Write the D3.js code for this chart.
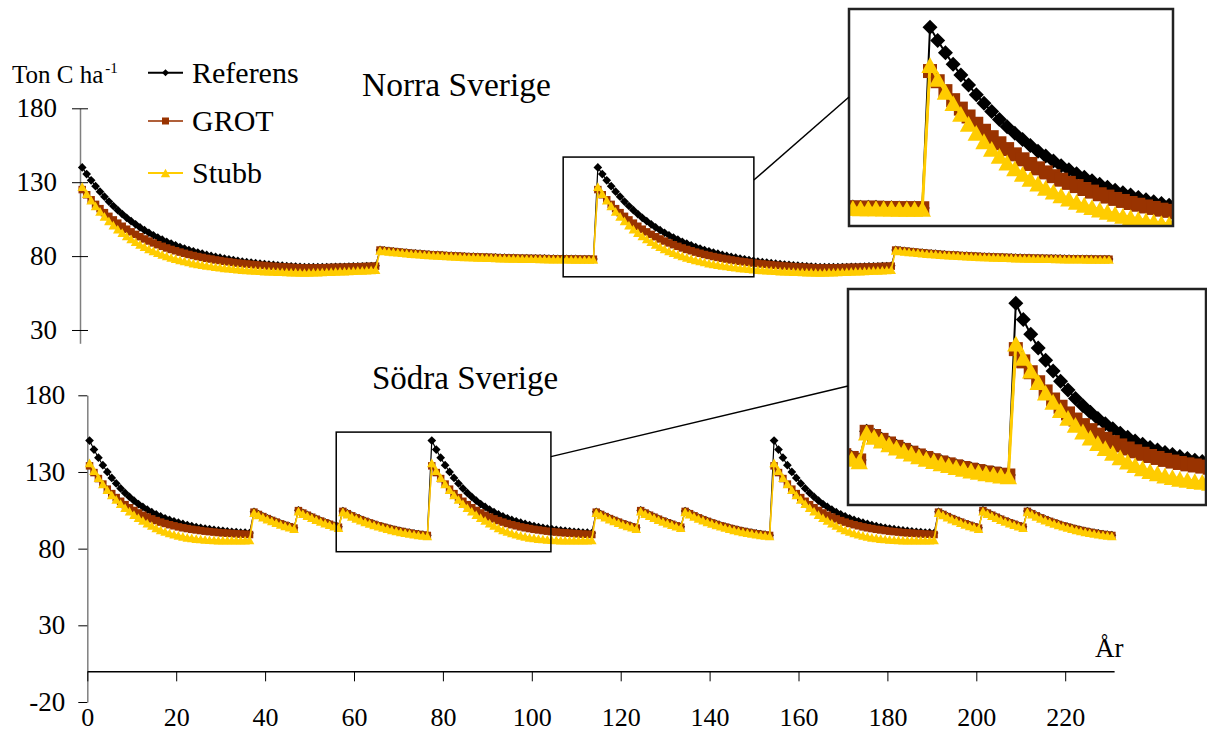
<!DOCTYPE html>
<html>
<head>
<meta charset="utf-8">
<script src="https://cdn.jsdelivr.net/npm/d3@7"></script>
<style>
body{margin:0;background:#fff}
text{font-family:"Liberation Serif","Times New Roman","DejaVu Serif",serif;fill:#000}
</style>
</head>
<body>
<script>
// one rotation (years since final felling) per series
var norraRefRot = [140.0,135.5,131.3,127.3,123.6,120.2,116.9,113.9,111.1,108.4,105.9,103.6,101.5,99.4,97.5,95.8,94.1,92.5,91.1,89.7,
  88.5,87.3,86.1,85.1,84.1,83.2,82.4,81.6,80.8,80.1,79.5,78.9,78.3,77.8,77.3,76.8,76.3,75.9,75.6,75.2,
  74.9,74.6,74.3,74.0,73.7,73.5,73.3,73.1,72.9,72.7,72.5,72.5,72.5,72.5,72.5,72.6,72.6,72.7,72.7,72.8,
  72.9,73.0,73.0,73.1,73.2,73.3,73.4,
  84.2,83.8,83.5,83.2,82.9,82.6,82.3,82.0,81.8,81.6,81.3,81.1,80.9,80.8,80.6,80.4,80.3,80.1,80.0,79.8,
  79.7,79.6,79.5,79.4,79.3,79.2,79.1,79.0,78.9,78.8,78.8,78.7,78.6,78.6,78.5,78.5,78.4,78.4,78.3,78.3,
  78.2,78.2,78.2,78.1,78.1,78.0,78.0,78.0,78.0];
var norraGrotRot = [125.0,121.5,118.1,115.0,112.1,109.4,106.9,104.5,102.3,100.2,98.2,96.4,94.7,93.1,91.6,90.2,88.9,87.7,86.6,85.5,
  84.5,83.6,82.7,81.9,81.1,80.4,79.7,79.1,78.5,78.0,77.4,77.0,76.5,76.1,75.7,75.3,75.0,74.7,74.4,74.1,
  73.8,73.6,73.3,73.1,72.9,72.7,72.6,72.4,72.2,72.1,72.0,72.0,72.0,72.1,72.1,72.2,72.3,72.4,72.4,72.5,
  72.6,72.7,72.8,72.9,73.0,73.1,73.2,
  84.1,83.7,83.4,83.1,82.8,82.5,82.2,81.9,81.7,81.5,81.2,81.0,80.8,80.7,80.5,80.3,80.2,80.0,79.9,79.7,
  79.6,79.5,79.4,79.3,79.2,79.1,79.0,78.9,78.8,78.7,78.7,78.6,78.5,78.5,78.4,78.4,78.3,78.3,78.2,78.2,
  78.1,78.1,78.1,78.0,78.0,77.9,77.9,77.9,77.9];
var norraStubbRot = [127.0,122.3,117.9,114.0,110.3,106.9,103.8,100.9,98.3,95.9,93.6,91.6,89.7,88.0,86.4,84.9,83.6,82.3,81.2,80.1,
  79.1,78.3,77.4,76.7,76.0,75.3,74.8,74.2,73.7,73.3,72.8,72.5,72.1,71.8,71.5,71.2,70.9,70.7,70.5,70.3,
  70.1,69.9,69.8,69.6,69.5,69.4,69.3,69.2,69.1,69.0,68.9,69.0,69.1,69.2,69.3,69.4,69.5,69.6,69.8,69.9,
  70.0,70.1,70.3,70.4,70.5,70.7,70.8,
  83.9,83.5,83.2,82.9,82.6,82.3,82.0,81.7,81.5,81.3,81.0,80.8,80.6,80.5,80.3,80.1,80.0,79.8,79.7,79.5,
  79.4,79.3,79.2,79.1,79.0,78.9,78.8,78.7,78.6,78.5,78.5,78.4,78.3,78.3,78.2,78.2,78.1,78.1,78.0,78.0,
  77.9,77.9,77.9,77.8,77.8,77.7,77.7,77.7,77.7];

var sodraRefRot = [150.5,144.6,139.3,134.4,130.0,126.1,122.5,119.3,116.3,113.7,111.3,109.1,107.2,105.4,103.8,102.3,101.0,99.8,98.7,97.8,
  96.9,96.1,95.4,94.7,94.1,93.6,93.1,92.7,92.3,91.9,91.6,91.3,91.0,90.8,90.5,90.4,90.2,
  104.0,102.5,101.1,99.8,98.6,97.5,96.4,95.4,94.5,93.6,
  105.0,103.4,102.0,100.7,99.4,98.2,97.1,96.1,95.1,94.2,
  104.5,103.0,101.6,100.3,99.1,98.0,97.0,96.0,95.1,94.3,93.5,92.8,92.1,91.5,90.9,90.4,89.9,89.5,89.1,88.8];
var sodraGrotRot = [134.0,129.6,125.7,122.1,118.8,115.9,113.3,110.9,108.7,106.7,104.9,103.3,101.8,100.6,99.4,98.3,97.3,96.4,95.6,94.9,
  94.2,93.6,93.1,92.6,92.2,91.8,91.4,91.1,90.8,90.5,90.3,90.1,89.9,89.7,89.5,89.4,89.2,
  103.8,102.3,100.9,99.6,98.4,97.3,96.2,95.2,94.3,93.4,
  104.8,103.2,101.8,100.5,99.2,98.0,96.9,95.9,94.9,94.0,
  104.3,102.8,101.4,100.1,98.9,97.8,96.8,95.8,94.9,94.1,93.3,92.6,91.9,91.3,90.7,90.2,89.7,89.3,88.9,88.6];
var sodraStubbRot = [136.0,130.9,126.3,122.2,118.4,115.1,112.1,109.3,106.8,104.4,102.2,100.2,98.4,96.7,95.1,93.6,92.3,91.2,90.2,89.4,
  88.6,88.0,87.4,87.0,86.6,86.3,86.0,85.8,85.7,85.6,85.5,85.5,85.5,85.5,85.6,85.6,85.7,
  103.5,102.0,100.6,99.3,98.1,97.0,95.9,94.9,94.0,93.1,
  104.5,102.9,101.5,100.2,98.9,97.7,96.6,95.6,94.6,93.7,
  104.0,102.5,101.1,99.8,98.6,97.5,96.5,95.5,94.6,93.8,93.0,92.3,91.6,91.0,90.4,89.9,89.4,89.0,88.6,88.3];

// two rotations in the north, three in the south
var norraRef = norraRefRot.concat(norraRefRot);
var norraGrot = norraGrotRot.concat(norraGrotRot);
var norraStubb = norraStubbRot.concat(norraStubbRot);
var sodraRef = sodraRefRot.concat(sodraRefRot, sodraRefRot);
var sodraGrot = sodraGrotRot.concat(sodraGrotRot, sodraGrotRot);
var sodraStubb = sodraStubbRot.concat(sodraStubbRot, sodraStubbRot);

var seriesNames = ["Referens", "GROT", "Stubb"];
var xTicks = [0, 20, 40, 60, 80, 100, 120, 140, 160, 180, 200, 220];
var yTicksTop = [30, 80, 130, 180];
var yTicksBottom = [-20, 30, 80, 130, 180];

var markColors = ["#000000", "#993300", "#ffcc00"];
var lineColors = ["#000000", "#b0603a", "#ffcc00"];
var serif = "Liberation Serif, Times New Roman, serif";

var svg = d3.select("body").append("svg").attr("width", 1207).attr("height", 733);

// excel style markers
var symDiamond = {draw: function (c, size) { var r = Math.sqrt(size) / 2; c.moveTo(0, -r); c.lineTo(r, 0); c.lineTo(0, r); c.lineTo(-r, 0); c.closePath(); }};
var symSquare = {draw: function (c, size) { var r = Math.sqrt(size) / 2; c.moveTo(-r, -r); c.lineTo(r, -r); c.lineTo(r, r); c.lineTo(-r, r); c.closePath(); }};
var symTriangle = {draw: function (c, size) { var r = Math.sqrt(size) / 2; c.moveTo(0, -r); c.lineTo(r * 1.1, r); c.lineTo(-r * 1.1, r); c.closePath(); }};
var symTypes = [symDiamond, symSquare, symTriangle];

// category axes: point i sits in the middle of its slot
var xTop = d3.scaleLinear().domain([0, 232]).range([80, 80 + 232 * 4.445]);
var yTop = d3.scaleLinear().domain([21, 180]).range([343.3, 108.3]);
var xBot = d3.scaleLinear().domain([0, 231]).range([87.3, 87.3 + 231 * 4.445]);
var yBot = d3.scaleLinear().domain([-20, 180]).range([702, 395.3]);

var xIn1 = d3.scaleLinear().domain([106, 148]).range([849, 1173]);
var yIn1 = d3.scaleLinear().domain([71.8, 146.3]).range([226, 9]);
var xIn2 = d3.scaleLinear().domain([55, 103]).range([848, 1206]);
var yIn2 = d3.scaleLinear().domain([78, 155.6]).range([505, 289]);

function plotSeries(layer, data, x, y, k, sizes, widths, i0, i1) {
  var idx = d3.range(Math.max(0, i0), Math.min(data.length, i1));
  layer.append("path").datum(idx)
    .attr("fill", "none")
    .attr("stroke", lineColors[k])
    .attr("stroke-width", widths[k])
    .attr("d", d3.line().x(function (i) { return x(i + 0.5); }).y(function (i) { return y(data[i]); }));
  layer.append("g").selectAll("path").data(idx).join("path")
    .attr("transform", function (i) { return "translate(" + x(i + 0.5) + "," + y(data[i]) + ")"; })
    .attr("d", d3.symbol().type(symTypes[k]).size(sizes[k]))
    .attr("fill", markColors[k]);
}

var smallSizes = [76, 56, 76];
var smallWidths = [1.2, 1.2, 1.6];
var bigSizes = [225, 196, 250];
var bigWidths = [2, 2, 3];
var plain = function (d) { return String(d); };

// ---- top panel: Norra Sverige
var gTop = svg.append("g");
gTop.append("g").attr("transform", "translate(80,0)")
  .call(d3.axisLeft(yTop).tickValues(yTicksTop).tickFormat(plain).tickSizeInner(8).tickSizeOuter(0).tickPadding(15))
  .attr("font-family", serif)
  .call(function (g) {
    g.select(".domain").attr("stroke", "#7f7f7f").attr("stroke-width", 1.5);
    g.selectAll(".tick line").attr("x1", 8).attr("x2", -8).attr("stroke", "#000");
    g.selectAll(".tick text").attr("font-size", 27);
  });
[norraRef, norraGrot, norraStubb].forEach(function (d, k) {
  plotSeries(gTop, d, xTop, yTop, k, smallSizes, smallWidths, 0, 232);
});

// ---- bottom panel: Södra Sverige
var gBot = svg.append("g");
gBot.append("g").attr("transform", "translate(87.3,0)")
  .call(d3.axisLeft(yBot).tickValues(yTicksBottom).tickFormat(plain).tickSizeInner(9).tickSizeOuter(0).tickPadding(13))
  .attr("font-family", serif)
  .call(function (g) {
    g.select(".domain").attr("stroke", "#7f7f7f").attr("stroke-width", 1.5);
    g.selectAll(".tick line").attr("stroke", "#000");
    g.selectAll(".tick text").attr("font-size", 27);
  });
gBot.append("g").attr("transform", "translate(0," + yBot(0) + ")")
  .call(d3.axisBottom(xBot).tickValues(xTicks).tickFormat(plain).tickSizeInner(10).tickSizeOuter(0))
  .attr("font-family", serif)
  .call(function (g) {
    g.select(".domain").attr("stroke", "#000").attr("stroke-width", 1.5);
    g.selectAll(".tick line").attr("stroke", "#000");
    g.selectAll(".tick text").attr("font-size", 26).attr("dy", null).attr("y", 55);
  });
[sodraRef, sodraGrot, sodraStubb].forEach(function (d, k) {
  plotSeries(gBot, d, xBot, yBot, k, smallSizes, smallWidths, 0, 231);
});

// ---- zoom boxes in the panels
function zoomBox(x, y, x0, x1, v0, v1) {
  svg.append("rect")
    .attr("x", x(x0)).attr("y", y(v1))
    .attr("width", x(x1) - x(x0)).attr("height", y(v0) - y(v1))
    .attr("fill", "none").attr("stroke", "#000").attr("stroke-width", 1.5);
}
zoomBox(xTop, yTop, 108.7, 151.6, 66, 147);
zoomBox(xBot, yBot, 56, 104.3, 78, 156);

// ---- magnified insets
function inset(id, x, y, series, i0, i1) {
  var x0 = x.range()[0], x1 = x.range()[1], yT = y.range()[1], yB = y.range()[0];
  svg.append("clipPath").attr("id", id).append("rect")
    .attr("x", x0).attr("y", yT).attr("width", x1 - x0).attr("height", yB - yT);
  svg.append("rect").attr("x", x0).attr("y", yT).attr("width", x1 - x0).attr("height", yB - yT).attr("fill", "#fff");
  var g = svg.append("g").attr("clip-path", "url(#" + id + ")");
  series.forEach(function (d, k) { plotSeries(g, d, x, y, k, bigSizes, bigWidths, i0, i1); });
  svg.append("rect").attr("x", x0).attr("y", yT).attr("width", x1 - x0).attr("height", yB - yT)
    .attr("fill", "none").attr("stroke", "#222").attr("stroke-width", 2.5);
}
inset("clipN", xIn1, yIn1, [norraRef, norraGrot, norraStubb], 104, 150);
inset("clipS", xIn2, yIn2, [sodraRef, sodraGrot, sodraStubb], 53, 105);

// connector lines from the small boxes to the insets
svg.append("line").attr("x1", xTop(151.6)).attr("y1", yTop(131.5)).attr("x2", 849).attr("y2", 97)
  .attr("stroke", "#000").attr("stroke-width", 1.5);
svg.append("line").attr("x1", xBot(104.3)).attr("y1", yBot(140)).attr("x2", 848).attr("y2", 386)
  .attr("stroke", "#000").attr("stroke-width", 1.5);

// ---- texts
var unit = svg.append("text").attr("x", 12).attr("y", 83).attr("font-size", 25);
unit.append("tspan").text("Ton C ha");
unit.append("tspan").attr("font-size", 15).attr("dx", 2).attr("dy", -10).text("-1");

svg.append("text").attr("x", 362).attr("y", 96).attr("font-size", 33.5).text("Norra Sverige");
svg.append("text").attr("x", 372).attr("y", 389).attr("font-size", 33).text("Södra Sverige");
svg.append("text").attr("x", 1095).attr("y", 657).attr("font-size", 27).text("År");

// legend
var legY = [72.7, 121, 173];
var leg = svg.append("g");
seriesNames.forEach(function (name, k) {
  leg.append("line").attr("x1", 148).attr("x2", 183).attr("y1", legY[k]).attr("y2", legY[k])
    .attr("stroke", lineColors[k]).attr("stroke-width", 2);
  leg.append("path").attr("transform", "translate(165.5," + legY[k] + ")")
    .attr("d", d3.symbol().type(symTypes[k]).size([49, 49, 72][k]))
    .attr("fill", markColors[k]);
  leg.append("text").attr("x", 192).attr("y", legY[k] + 10).attr("font-size", 30).text(name);
});
</script>
</body>
</html>
